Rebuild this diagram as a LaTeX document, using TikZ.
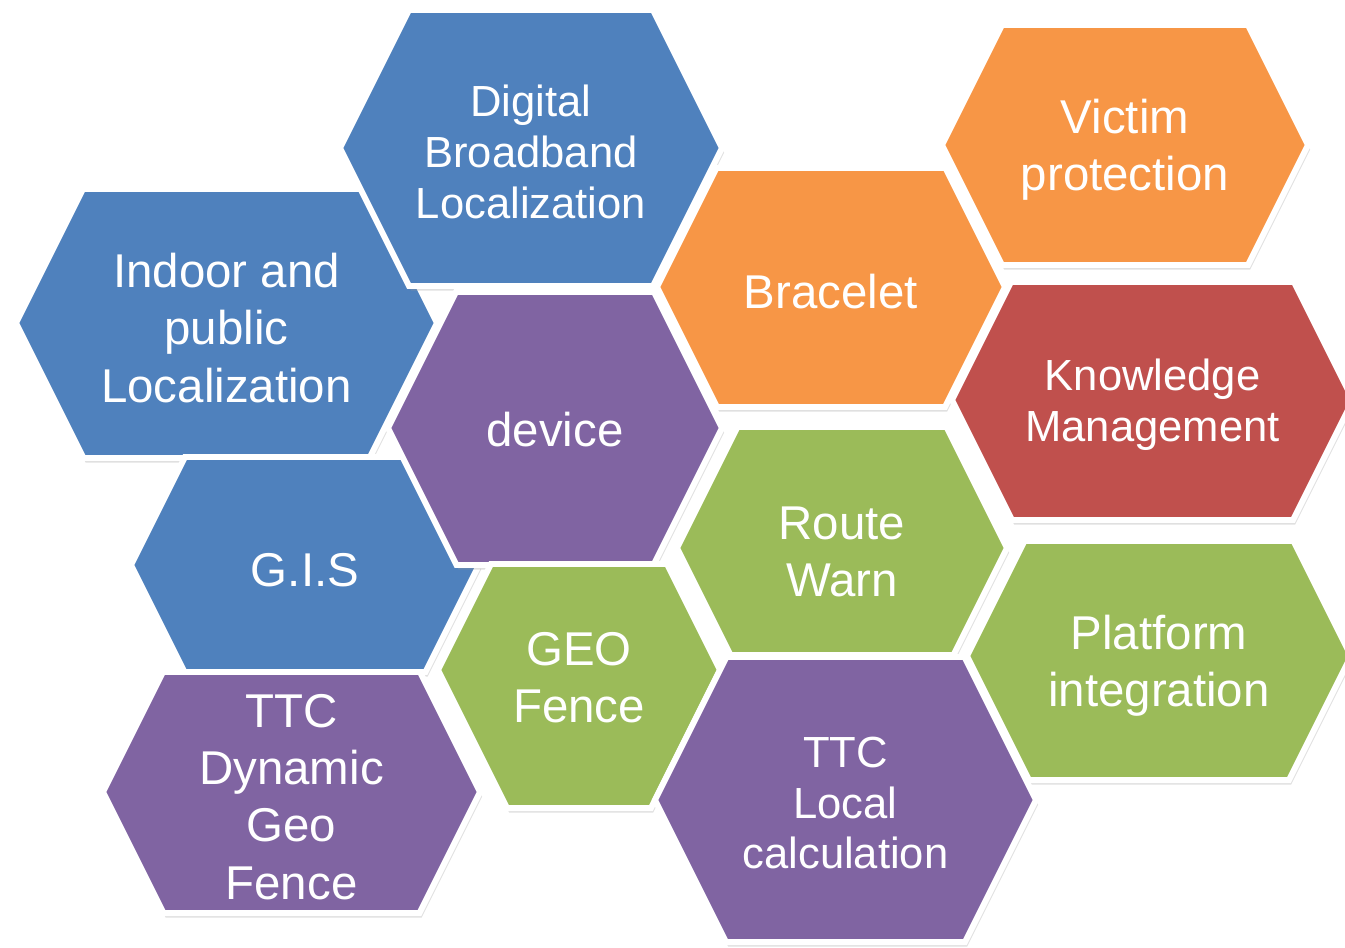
\documentclass[tikz,border=0pt]{standalone}
\usepackage{fontspec}
\setmainfont{Liberation Sans}
\usepackage{tikz}
\usetikzlibrary{shadows}

\definecolor{cellblue}{HTML}{4F81BD}
\definecolor{cellpurple}{HTML}{8064A2}
\definecolor{cellorange}{HTML}{F79646}
\definecolor{cellred}{HTML}{C0504D}
\definecolor{cellgreen}{HTML}{9BBB59}

\begin{document}
\begin{tikzpicture}[x=0.02cm, y=-0.02cm,
    cell/.style={draw=white, line width=3.4pt, line join=miter,
      drop shadow={shadow xshift=1.2pt, shadow yshift=-2.6pt, fill=black!40, opacity=0.3}},
    bigtext/.style={text=white, align=center, font=\fontsize{27}{32.6}\selectfont},
    smalltext/.style={text=white, align=center, font=\fontsize{24.8}{28.9}\selectfont}]

        \useasboundingbox (0,0) rectangle (1345,947);

% Cells: left/right/top/middle/bottom, text height, colour, text style, name, label
        \foreach \l/\r/\t/\m/\b/\ty/\col/\sty/\name/\txt in {
            16/437/189/323/458/328/cellblue/bigtext/indoor/{Indoor and\\public\\Localization},
            340/722/10/148/286/152/cellblue/smalltext/digital/{Digital\\Broadband\\Localization},
            131/479/457/565/672/570/cellblue/bigtext/gis/{G.I.S},
            388/722/292/428/565/430/cellpurple/bigtext/device/{device},
            942/1308/25/145/265/150/cellorange/bigtext/victim/{Victim\\protection},
            657/1005/168/287/407/292/cellorange/bigtext/bracelet/{Bracelet},
            952/1353/282/400/520/405/cellred/smalltext/knowledge/{Knowledge\\Management},
            677/1007/427/548/655/552/cellgreen/bigtext/route/{Route\\Warn},
            967/1351/541/656/780/666/cellgreen/bigtext/platform/{Platform\\integration},
            438/720/564/670/808/678/cellgreen/bigtext/geo/{GEO\\Fence},
            103/480/672/792/913/797/cellpurple/bigtext/ttcdyn/{TTC\\Dynamic\\Geo\\Fence},
            655/1036/657/800/942/803/cellpurple/smalltext/ttclocal/{TTC\\Local\\calculation}} {
          \filldraw[cell, fill=\col] (\l,\m) -- ({\l+(\m-\t)/2},\t) -- ({\r-(\m-\t)/2},\t)
            -- (\r,\m) -- ({\r-(\b-\m)/2},\b) -- ({\l+(\b-\m)/2},\b) -- cycle;
          \node[\sty] (\name) at ({(\l+\r)/2},\ty) {\txt};
        }

      \end{tikzpicture}
\end{document}
